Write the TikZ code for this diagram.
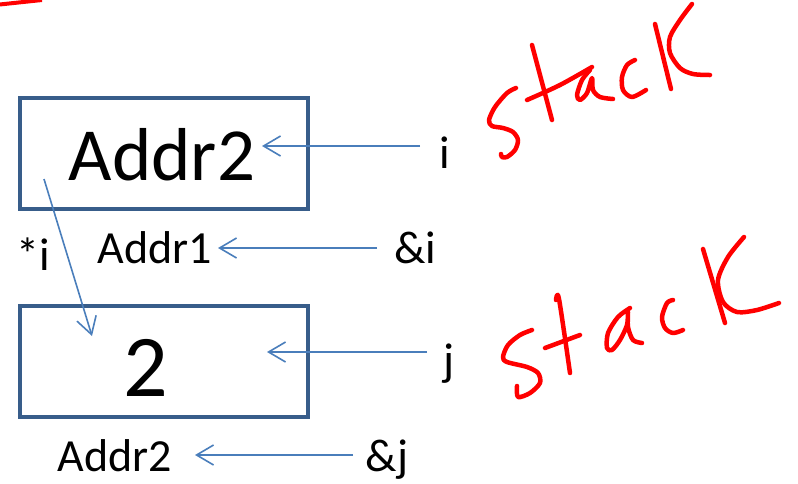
\documentclass[tikz,border=0pt]{standalone}
\usepackage{fontspec}
\setmainfont{Carlito}
\usetikzlibrary{arrows.meta}
\definecolor{boxblue}{HTML}{385D8A}
\definecolor{arrblue}{HTML}{4A7EBB}
\tikzset{
  membox/.style={draw=boxblue, line width=4pt, line join=miter},
  ptr/.style={draw=arrblue, line width=1.6pt, -{Straight Barb[length=17pt,width=20pt,line width=1.6pt]}},
  small/.style={font=\fontsize{46}{50}\selectfont, inner sep=0pt, anchor=base},
  bigtxt/.style={font=\fontsize{75}{80}\selectfont, inner sep=0pt, anchor=base},
  ink/.style={draw=red, line width=4.5pt, line cap=round, line join=round}
}
\begin{document}
\begin{tikzpicture}[x=1pt,y=-1pt]
\useasboundingbox (0,0) rectangle (798,483);
% boxes
\draw[membox] (20,98) rectangle (308,209);
\draw[membox] (20,306) rectangle (308,417);
% texts
\node[bigtxt] (v1) at (162,180) {Addr2};
\node[small] (ni) at (445,168) {i};
\node[small] (a1) at (155,263) {Addr1};
\node[small] (ai) at (415,263) {\&i};
\node[small] (si) at (33,270) {*i};
\node[font=\fontsize{88}{92}\selectfont, inner sep=0pt, anchor=base] (v2) at (146,396) {2};
\node[small] (nj) at (449,375) {j};
\node[small] (a2) at (115,471) {Addr2};
\node[small] (aj) at (387,471) {\&j};
% connector ends
\coordinate (i0) at (420,146);
\coordinate (i1) at (262,146);
\coordinate (ai0) at (377,248);
\coordinate (ai1) at (218,248);
\coordinate (j0) at (427,352);
\coordinate (j1) at (267,352);
\coordinate (aj0) at (353,455);
\coordinate (aj1) at (195,455);
\coordinate (p0) at (44,179);
\coordinate (p1) at (92,336);
\draw[ptr] (i0) -- (i1);
\draw[ptr] (ai0) -- (ai1);
\draw[ptr] (j0) -- (j1);
\draw[ptr] (aj0) -- (aj1);
\draw[ptr] (p0) -- (p1);
% red ink stroke top-left
\draw[draw=red, line width=4pt] (-5,5) -- (42,0);
% upper "stack"
\draw[ink] plot[smooth] coordinates {(516,88) (507,93) (495,107) (489,120) (492,126) (503,128) (513,132) (518,140) (515,150) (507,157) (502,157) (501,154)};
\draw[ink] (532,45) -- (552,120);
\draw[ink] plot[smooth] coordinates {(527,100) (560,85) (592,67)};
\draw[ink] plot[smooth] coordinates {(590,70) (582,80) (577,95) (580,100) (587,93) (592,78) (593,90) (600,97) (613,99)};
\draw[ink] plot[smooth] coordinates {(635,60) (627,65) (622,77) (623,90) (632,97) (646,90)};
\draw[ink] (655,24) -- (671,89);
\draw[ink] plot[smooth] coordinates {(692,4) (680,20) (670,37) (670,53) (680,68) (693,74) (710,75)};
% lower "stack"
\draw[ink] plot[smooth] coordinates {(532,330) (520,335) (508,345) (503,357) (507,362) (527,367) (538,373) (540,383) (530,393) (518,397) (517,386)};
\draw[ink] plot[smooth] coordinates {(556,300) (559,299) (570,373)};
\draw[ink] (545,348) -- (580,335);
\draw[ink] plot[smooth] coordinates {(630,308) (618,317) (608,333) (607,348) (612,350) (620,340) (627,325) (628,312) (628,327) (633,340) (642,343)};
\draw[ink] plot[smooth] coordinates {(673,300) (667,303) (662,317) (665,328) (673,333) (683,330)};
\draw[ink] (703,249) -- (725,323);
\draw[ink] plot[smooth] coordinates {(744,237) (728,257) (718,280) (723,302) (737,312) (757,310) (779,303)};
\end{tikzpicture}
\end{document}
